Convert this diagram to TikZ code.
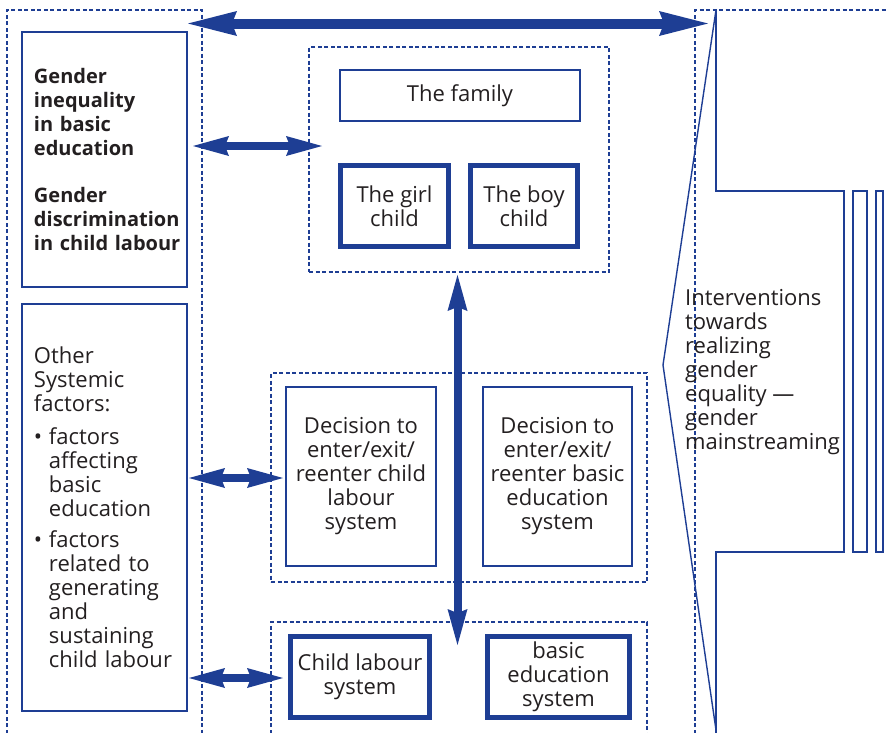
\documentclass[tikz,border=0pt]{standalone}
\usepackage{fontspec}
\setmainfont{Open Sans}
\usetikzlibrary{arrows.meta}
\definecolor{ilo}{RGB}{30,62,148}
\definecolor{ink}{RGB}{35,31,32}
\newcommand\itemdot{\makebox[15pt][l]{\textbullet}}
\newcommand\itemgap{\hspace*{15pt}}

\begin{document}
\begin{tikzpicture}[
    x=1pt, y=-1pt,
    font=\fontsize{22}{24}\selectfont, text=ink,
    box/.style={draw=ilo, line width=1.4pt, inner sep=0pt, align=center},
    heavy/.style={draw=ilo, line width=5pt, inner sep=0pt, align=center},
    zone/.style={draw=ilo, line width=1.2pt, dash pattern=on 4pt off 2.5pt},
    strong/.style={font=\fontsize{20}{24}\selectfont\bfseries},
    link/.style={draw=ilo, line width=8pt,
        {Stealth[length=36pt,width=20pt,inset=4pt,line width=0pt]}-{Stealth[length=36pt,width=20pt,inset=4pt,line width=0pt]}},
    biglink/.style={draw=ilo, line width=10pt,
        {Stealth[length=49pt,width=25pt,inset=5pt,line width=0pt]}-{Stealth[length=49pt,width=25pt,inset=5pt,line width=0pt]}}
]
\useasboundingbox (0,0) rectangle (887,732);

% open dashed areas
\draw[zone] (7,740) -- (7,10) -- (202,10) -- (202,740);
\draw[zone] (695,740) -- (695,10) -- (890,10);
\draw[zone] (271,740) -- (271,622) -- (647,622) -- (647,740);

% left column
\node[box, strong, minimum width=165pt, minimum height=255pt, text width=141pt, inner xsep=12pt, align=left] (gap) at (104.5,159.5)
    {Gender\\inequality\\in basic\\education\\[23pt]Gender\\discrimination\\\mbox{in child labour}};
\node[box, minimum width=165pt, minimum height=407pt, text width=141pt, align=left] (other) at (104.5,507.5)
    {Other\\Systemic\\factors:\\[9pt]\itemdot factors\\\itemgap affecting\\\itemgap basic\\\itemgap education\\[7pt]\itemdot factors\\\itemgap related to\\\itemgap generating\\\itemgap and\\\itemgap sustaining\\\itemgap child labour};

% family
\node[zone, minimum width=300pt, minimum height=225pt] (home) at (459,159.5) {};
\node[box, minimum width=240pt, minimum height=51pt] (family) at (460,95.5) {The family};
\node[heavy, minimum width=108pt, minimum height=81pt] (girl) at (394.5,206) {The girl\\child};
\node[heavy, minimum width=107pt, minimum height=81pt] (boy) at (524,206) {The boy\\child};

% decisions
\node[zone, minimum width=376pt, minimum height=209pt] (choice) at (459,477.5) {};
\node[box, minimum width=150pt, minimum height=179pt] (decCL) at (361,476.5)
    {Decision to\\enter/exit/\\reenter child\\labour\\system};
\node[box, minimum width=149pt, minimum height=179pt] (decBE) at (557.5,476.5)
    {Decision to\\enter/exit/\\reenter basic\\education\\system};

% systems
\node[heavy, minimum width=139pt, minimum height=81pt] (clsys) at (360,677) {Child labour\\system};
\node[heavy, minimum width=142pt, minimum height=81pt] (besys) at (558.5,677) {basic\\education\\system};

% right side
\draw[ilo, line width=1.4pt] (716,10) -- (716,191) -- (844,191) -- (844,552) -- (716,552) -- (716,740);
\draw[ilo, line width=1.4pt] (716,10) -- (663,365) -- (716.3,732);
\foreach \a/\b in {853/867, 876/883}
    \draw[ilo, line width=1.4pt] (\a,191) rectangle (\b,552);
\node[anchor=west, align=left, inner sep=0pt] (gm) at (685,372)
    {Interventions\\towards\\realizing\\gender\\equality —\\gender\\mainstreaming};

% spojky
\coordinate (topL) at (188,23.5);
\coordinate (topR) at (708,23.5);
\coordinate (famL) at (193,146);
\coordinate (famR) at (322,146);
\coordinate (decL) at (189,478);
\coordinate (decR) at (283,478);
\coordinate (sysL) at (189,678);
\coordinate (sysR) at (283,678);
\coordinate (midT) at (457.5,275);
\coordinate (midB) at (457.5,645);

\draw[biglink] (topL) -- (topR);
\draw[link] (famL) -- (famR);
\draw[link] (decL) -- (decR);
\draw[link] (sysL) -- (sysR);
\draw[link] (midT) -- (midB);

\end{tikzpicture}
\end{document}
